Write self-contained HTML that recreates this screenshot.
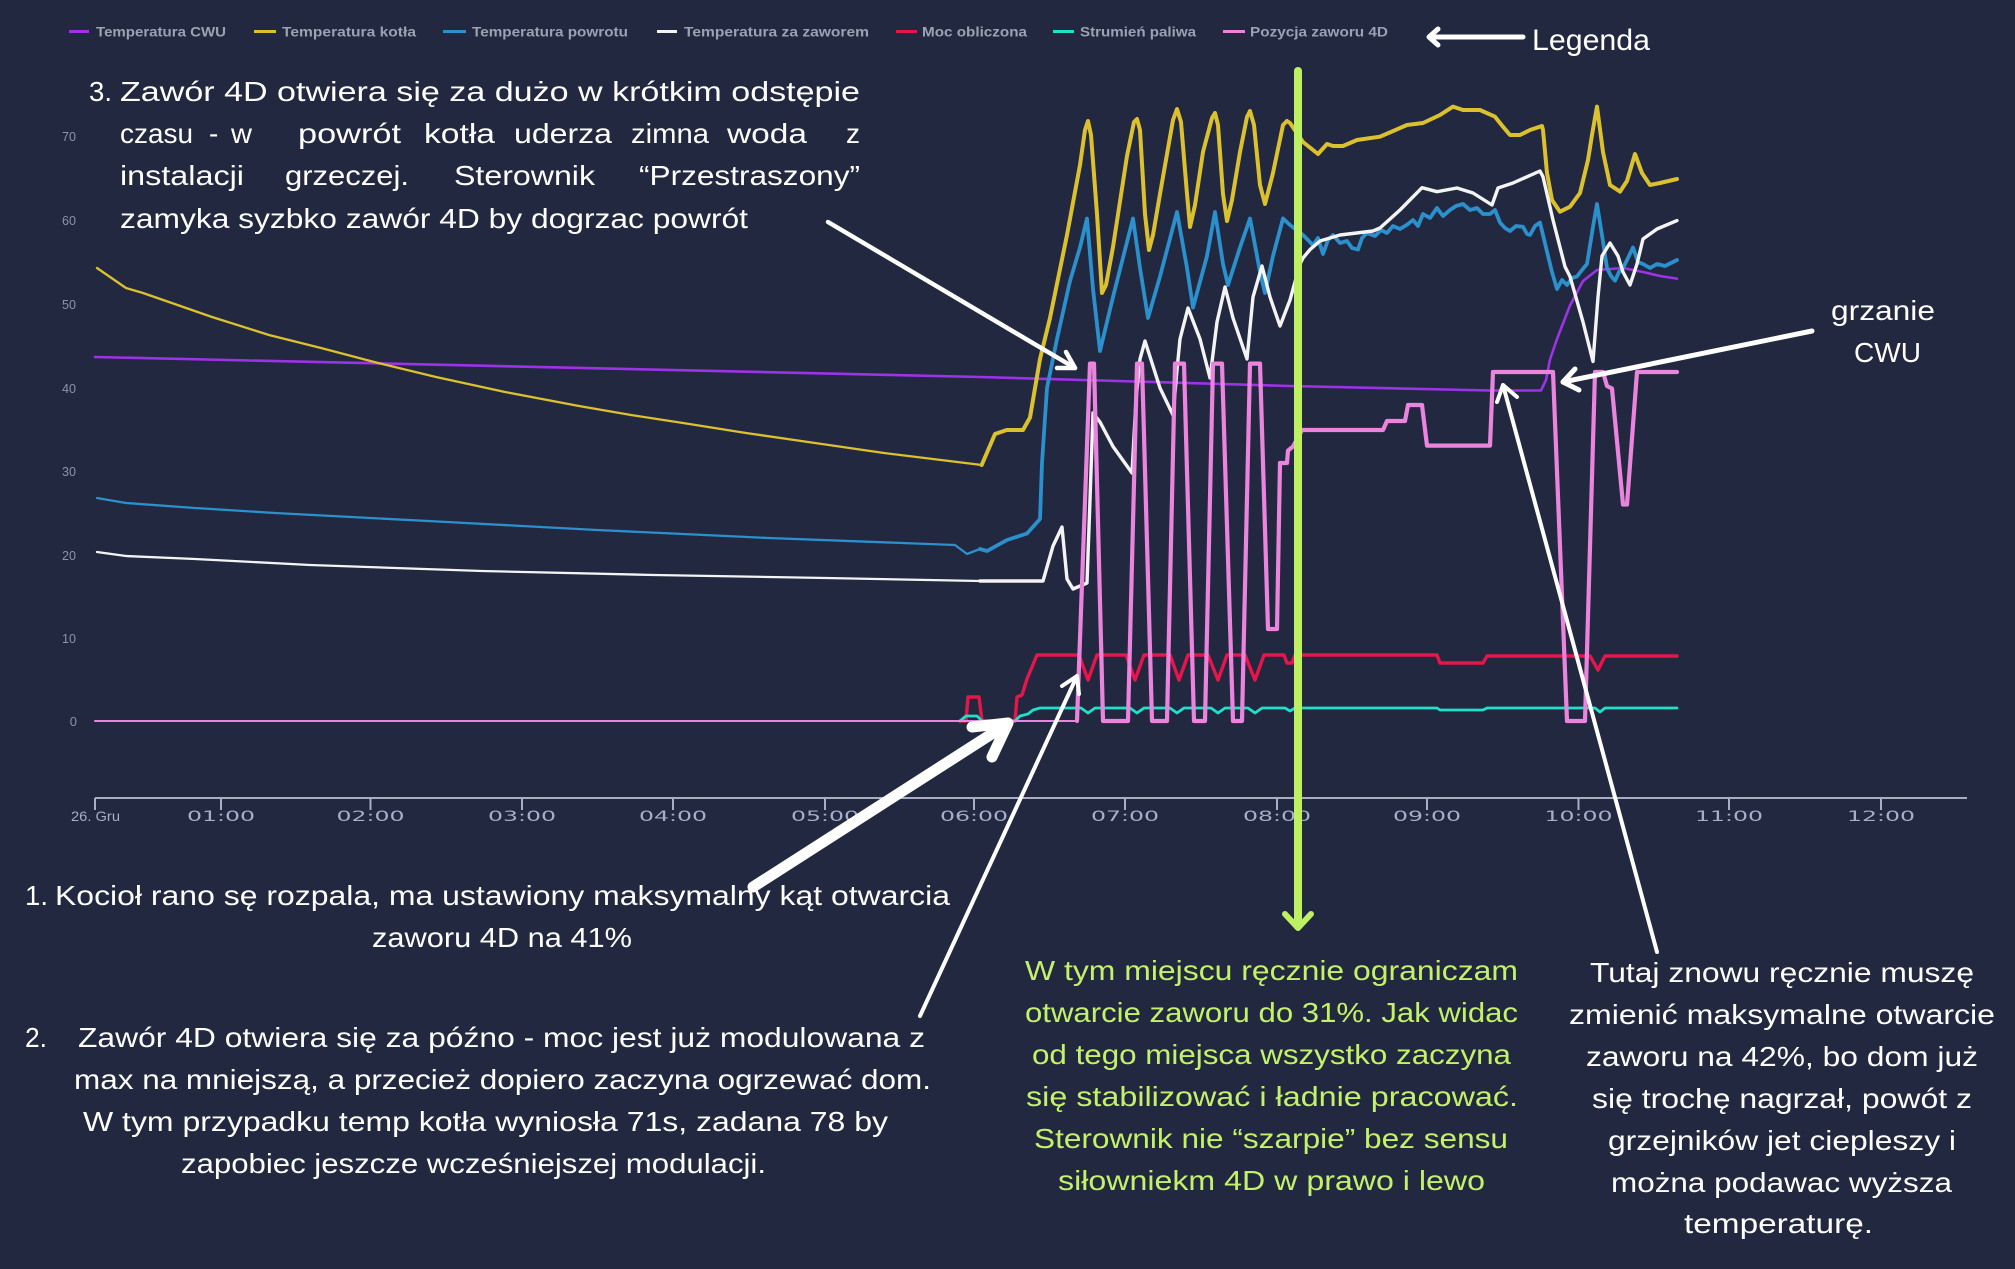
<!DOCTYPE html>
<html><head><meta charset="utf-8"><style>
html,body{margin:0;padding:0;background:#212840;}
svg{display:block;}
.ann{font-family:"Liberation Sans","DejaVu Sans",sans-serif;font-size:28px;fill:#ffffff;}
.grn{fill:#c3f26a;}
.leg{font-family:"Liberation Sans",sans-serif;font-weight:bold;font-size:14px;fill:#9ca2b2;}
.yl{font-family:"Liberation Sans",sans-serif;font-size:13px;fill:#8b93ab;}
.xl{font-family:"DejaVu Sans","Liberation Sans",sans-serif;font-size:14px;fill:#a6aec8;}
</style></head><body>
<svg width="2015" height="1269" viewBox="0 0 2015 1269" xmlns="http://www.w3.org/2000/svg">
<rect width="2015" height="1269" fill="#212840"/>

<!-- Legend -->
<g stroke-width="3">
<line x1="69" y1="31.5" x2="89" y2="31.5" stroke="#9d33e6"/>
<line x1="254" y1="31.5" x2="276" y2="31.5" stroke="#dcc12e"/>
<line x1="443" y1="31.5" x2="466" y2="31.5" stroke="#2b90cc"/>
<line x1="657" y1="31.5" x2="677" y2="31.5" stroke="#f4f4f4"/>
<line x1="896" y1="31.5" x2="917" y2="31.5" stroke="#e6164b"/>
<line x1="1053" y1="31.5" x2="1074" y2="31.5" stroke="#1fe0c8"/>
<line x1="1223" y1="31.5" x2="1245" y2="31.5" stroke="#ea84dc"/>
</g>
<text class="leg" x="96" y="36.5" textLength="130" lengthAdjust="spacingAndGlyphs">Temperatura CWU</text>
<text class="leg" x="282" y="36.5" textLength="134" lengthAdjust="spacingAndGlyphs">Temperatura kotła</text>
<text class="leg" x="472" y="36.5" textLength="156" lengthAdjust="spacingAndGlyphs">Temperatura powrotu</text>
<text class="leg" x="684" y="36.5" textLength="185" lengthAdjust="spacingAndGlyphs">Temperatura za zaworem</text>
<text class="leg" x="922" y="36.5" textLength="105" lengthAdjust="spacingAndGlyphs">Moc obliczona</text>
<text class="leg" x="1080" y="36.5" textLength="116" lengthAdjust="spacingAndGlyphs">Strumień paliwa</text>
<text class="leg" x="1250" y="36.5" textLength="138" lengthAdjust="spacingAndGlyphs">Pozycja zaworu 4D</text>

<!-- Legenda arrow -->
<g stroke="#ffffff" stroke-width="5" fill="none" stroke-linecap="round" stroke-linejoin="round">
<line x1="1430" y1="37" x2="1523" y2="37"/>
<polyline points="1438,29 1429,37 1438,45"/>
</g>
<text class="ann" x="1532" y="50" style="font-size:30px" textLength="118" lengthAdjust="spacingAndGlyphs">Legenda</text>

<!-- Y labels -->
<g class="yl" text-anchor="end">
<text x="76" y="141" textLength="14" lengthAdjust="spacingAndGlyphs">70</text>
<text x="76" y="225" textLength="14" lengthAdjust="spacingAndGlyphs">60</text>
<text x="76" y="309" textLength="14" lengthAdjust="spacingAndGlyphs">50</text>
<text x="76" y="393" textLength="14" lengthAdjust="spacingAndGlyphs">40</text>
<text x="76" y="476" textLength="14" lengthAdjust="spacingAndGlyphs">30</text>
<text x="76" y="560" textLength="14" lengthAdjust="spacingAndGlyphs">20</text>
<text x="76" y="643" textLength="14" lengthAdjust="spacingAndGlyphs">10</text>
<text x="77" y="726">0</text>
</g>

<!-- X axis -->
<line x1="95" y1="798" x2="1967" y2="798" stroke="#a9afc0" stroke-width="2"/>
<g stroke="#a9afc0" stroke-width="2">
<line x1="95" y1="798" x2="95" y2="810"/>
<line x1="221" y1="798" x2="221" y2="810"/>
<line x1="370.5" y1="798" x2="370.5" y2="810"/>
<line x1="522" y1="798" x2="522" y2="810"/>
<line x1="673" y1="798" x2="673" y2="810"/>
<line x1="825" y1="798" x2="825" y2="810"/>
<line x1="974" y1="798" x2="974" y2="810"/>
<line x1="1125" y1="798" x2="1125" y2="810"/>
<line x1="1277" y1="798" x2="1277" y2="810"/>
<line x1="1427" y1="798" x2="1427" y2="810"/>
<line x1="1578.5" y1="798" x2="1578.5" y2="810"/>
<line x1="1729" y1="798" x2="1729" y2="810"/>
<line x1="1881" y1="798" x2="1881" y2="810"/>
</g>
<text class="yl" x="71" y="821" style="font-size:14px;fill:#a6aec8" textLength="49" lengthAdjust="spacingAndGlyphs">26. Gru</text>
<g class="xl" text-anchor="middle">
<text x="221" y="821" textLength="68" lengthAdjust="spacingAndGlyphs">01:00</text>
<text x="370.5" y="821" textLength="68" lengthAdjust="spacingAndGlyphs">02:00</text>
<text x="522" y="821" textLength="68" lengthAdjust="spacingAndGlyphs">03:00</text>
<text x="673" y="821" textLength="68" lengthAdjust="spacingAndGlyphs">04:00</text>
<text x="825" y="821" textLength="68" lengthAdjust="spacingAndGlyphs">05:00</text>
<text x="974" y="821" textLength="68" lengthAdjust="spacingAndGlyphs">06:00</text>
<text x="1125" y="821" textLength="68" lengthAdjust="spacingAndGlyphs">07:00</text>
<text x="1277" y="821" textLength="68" lengthAdjust="spacingAndGlyphs">08:00</text>
<text x="1427" y="821" textLength="68" lengthAdjust="spacingAndGlyphs">09:00</text>
<text x="1578.5" y="821" textLength="68" lengthAdjust="spacingAndGlyphs">10:00</text>
<text x="1729" y="821" textLength="68" lengthAdjust="spacingAndGlyphs">11:00</text>
<text x="1881" y="821" textLength="68" lengthAdjust="spacingAndGlyphs">12:00</text>
</g>

<!-- Series -->
<g fill="none" stroke-linejoin="round" stroke-linecap="round">
<!-- CWU -->
<path stroke="#9d33e6" stroke-width="2.6" d="M95,357 L980,377 L1290,386 L1490,390.5 L1541,390.5 L1546,380 L1550,359.5 L1557,339 L1570,305.5 L1583,281 L1597,270 L1623,268 L1643,272 L1660,276 L1677,278.6"/>
<!-- kotla -->
<path stroke="#dcc12e" stroke-width="2.3" d="M97,268 L126,288 L143,293 L212,317 L269,335 L321,348 L378,363 L436,377 L505,392 L579,406 L631,415 L683,423 L746,433 L815,443 L884,453 L941,460 L981.7,465"/>
<path stroke="#dcc12e" stroke-width="4" d="M981.7,465 L995,434 L1006.7,430 L1023,430 L1030,417.5 L1040,359 L1050,318 L1067,235 L1080,165 L1085,130 L1088,121 L1091,135 L1097,214 L1102,293 L1106,285 L1113,247 L1127,156 L1134,122 L1137,119 L1140,130 L1145,214 L1149,250 L1153,235 L1160,194 L1173,120 L1177,109 L1181,122 L1187,194 L1190,227 L1195,205 L1203,152 L1212,118 L1215,113 L1218,125 L1223,194 L1227,221 L1232,200 L1240,152 L1247,117 L1250,111 L1254,125 L1260,185 L1265,204 L1273,173 L1283,125 L1287,121 L1290,123 L1303,142 L1318,154 L1327,144 L1333,146 L1343,146 L1357,140 L1380,136.7 L1407,125 L1423,123 L1440,115 L1453,106.6 L1463,110 L1480,110 L1495,116.7 L1503,126.7 L1510,135 L1520,135 L1530,130 L1542,126 L1543,130 L1547,173 L1552,200 L1560,211.7 L1570,206.7 L1580,193 L1588,160 L1592,135 L1597,106.6 L1603,152 L1610,185 L1620,191.6 L1627,181 L1635,154 L1642,173 L1650,185 L1660,183 L1677,179"/>
<!-- powrotu -->
<path stroke="#2b90cc" stroke-width="2.3" d="M97,498 L126,503 L195,508 L275,513 L447,522 L597,530 L769,538 L955,545 L967,554 L980,549"/>
<path stroke="#2b90cc" stroke-width="3.8" d="M980,549 L987,551 L1007,540 L1027,533.5 L1040,519 L1042,463 L1047,388 L1057,339 L1070,281 L1080,247.5 L1087,218.5 L1093,289 L1100,351 L1113,297 L1133,218.5 L1140,268 L1148,318 L1160,276.5 L1177,212 L1187,268 L1193,307.6 L1207,256 L1215,212 L1223,264 L1228,285 L1240,247.5 L1250,218.5 L1260,272 L1265,293 L1273,256 L1283,218.5 L1290,225 L1303,235 L1308,240 L1313,245.4 L1318,238 L1323,254 L1328,240 L1333,235 L1340,243 L1347,241 L1352,248 L1358,249.6 L1362,238 L1367,233 L1375,236 L1381,230 L1387,233 L1393,226 L1400,229 L1407,224.7 L1413,220 L1418,226 L1423,214 L1430,218 L1437,208 L1443,216 L1450,210 L1456,206 L1463,204 L1470,210 L1477,208 L1483,214 L1490,214 L1495,210 L1500,222.6 L1505,228 L1510,231 L1516,226 L1523,226.8 L1527,234 L1530,235 L1535,226 L1540,222.6 L1547,251.7 L1552,272 L1557,289 L1562,280 L1567,285 L1572,278 L1577,276.5 L1582,270 L1587,264 L1593,226.8 L1597,204 L1602,235 L1607,268 L1611,276 L1615,280.7 L1619,272 L1623,268 L1628,258 L1633,247.5 L1638,262 L1643,264 L1650,268 L1657,264 L1665,266 L1677,260"/>
<!-- za zaworem -->
<path stroke="#f4f4f4" stroke-width="2.3" d="M97,552 L126,556 L195,559 L310,565 L482,571 L654,575 L826,578 L980,581"/>
<path stroke="#f4f4f4" stroke-width="3.4" d="M980,581 L1043,581 L1053,546 L1062,527 L1067,579 L1073,589 L1087,583 L1090,500 L1093,413 L1100,422 L1113,446.5 L1132,473 L1136,400 L1140,359 L1145,341 L1160,388 L1173,415 L1177,370 L1180,339 L1188,308 L1200,339 L1210,378 L1217,322 L1225,287 L1233,318 L1247,359 L1253,297 L1262,266 L1270,297 L1280,326 L1290,300 L1300,264 L1303,258 L1310,249.6 L1320,241 L1340,235 L1373,231 L1380,228 L1400,210 L1422,187.7 L1437,191.7 L1457,188 L1473,193 L1492,205 L1498,188 L1513,183 L1540,171 L1543,176.7 L1553,220 L1565,266.7 L1570,276.5 L1583,322 L1593,361.5 L1598,297 L1602,256 L1610,243 L1618,256 L1623,272 L1630,285 L1637,264 L1643,239 L1657,229 L1677,220.6"/>
<!-- moc -->
<path stroke="#e6164b" stroke-width="3.4" d="M960,721 L966,721 L968,697 L979,697 L982,721 L1015,721 L1017,697 L1022,695 L1027,679 L1037,655 L1079,655 L1088,680 L1097,655 L1126,655 L1135,680 L1144,655 L1170,655 L1179,680 L1188,655 L1208,655 L1218,680 L1227,655 L1245,655 L1255,680 L1264,655 L1284,655 L1287,663 L1292,663 L1295,655 L1437,655 L1440,663 L1483,663 L1487,656 L1590,656 L1598,670 L1605,656 L1677,656"/>
<!-- strumien -->
<path stroke="#1fe0c8" stroke-width="2.8" d="M960,721 L966,716 L977,716 L982,721 L1015,721 L1020,716 L1028,714 L1033,710 L1040,708 L1081,708 L1088,713 L1095,708 L1130,708 L1137,713 L1144,708 L1170,708 L1177,713 L1184,708 L1211,708 L1218,713 L1225,708 L1248,708 L1255,713 L1262,708 L1285,708 L1290,711 L1295,708 L1437,708 L1440,710 L1483,710 L1487,708 L1595,708 L1600,712 L1605,708 L1677,708"/>
<!-- pozycja -->
<path stroke="#ea84dc" stroke-width="2" d="M95,721 L1077,721"/>
<path stroke="#ea84dc" stroke-width="4.2" d="M1077,721 L1090,363.6 L1094,363.6 L1103,721 L1128,721 L1137,363.6 L1142,363.6 L1152,721 L1167,721 L1175,363.6 L1184,363.6 L1194,721 L1205,721 L1213,363.6 L1222,363.6 L1233,721 L1242,721 L1250,363.6 L1260,363.6 L1268,629 L1277,629 L1280,463 L1287,463 L1288,450.6 L1293,446.5 L1302,430 L1383,430 L1387,421 L1405,421 L1408,405 L1422,405 L1427,445.6 L1490,445.6 L1493,372 L1553,372 L1567,721 L1585,721 L1595,372 L1603,372 L1607,386 L1612,388.5 L1623,504.5 L1627,504.5 L1637,372 L1677,372"/>
</g>

<!-- Annotation arrows -->
<g stroke="#ffffff" fill="none" stroke-linecap="round" stroke-linejoin="round">
<line x1="753" y1="887" x2="1004" y2="726" stroke-width="11"/>
<polyline points="972,727 1008,723 992,757" stroke-width="11"/>
<line x1="920" y1="1016" x2="1077" y2="676" stroke-width="4"/>
<polyline points="1062,686 1077,676 1079,694" stroke-width="4"/>
<line x1="828" y1="222" x2="1075" y2="368" stroke-width="4.5"/>
<polyline points="1057,368 1075,368 1066,352" stroke-width="4.5"/>
<line x1="1812" y1="331" x2="1563" y2="382" stroke-width="5"/>
<polyline points="1579,390 1563,382 1575,369" stroke-width="5"/>
<line x1="1657" y1="952" x2="1503" y2="385" stroke-width="4"/>
<polyline points="1497,402 1503,385 1517,397" stroke-width="4"/>
</g>

<!-- Green vertical marker -->
<g stroke="#bdf163" fill="none" stroke-linecap="round" stroke-linejoin="round">
<line x1="1298" y1="71" x2="1298" y2="926" stroke-width="8"/>
<polyline points="1285,914 1298,928 1311,914" stroke-width="6"/>
</g>

<!-- Top-left annotation -->
<text class="ann" x="89" y="101" textLength="23" lengthAdjust="spacingAndGlyphs">3.</text>
<text class="ann" x="120" y="101" textLength="740" lengthAdjust="spacingAndGlyphs">Zawór 4D otwiera się za dużo  w krótkim odstępie</text>
<g class="ann">
<text x="120" y="143" textLength="73" lengthAdjust="spacingAndGlyphs">czasu</text>
<text x="209" y="143">-</text>
<text x="231" y="143" textLength="21" lengthAdjust="spacingAndGlyphs">w</text>
<text x="298" y="143" textLength="103" lengthAdjust="spacingAndGlyphs">powrót</text>
<text x="424" y="143" textLength="71" lengthAdjust="spacingAndGlyphs">kotła</text>
<text x="514" y="143" textLength="98" lengthAdjust="spacingAndGlyphs">uderza</text>
<text x="631" y="143" textLength="78" lengthAdjust="spacingAndGlyphs">zimna</text>
<text x="727" y="143" textLength="80" lengthAdjust="spacingAndGlyphs">woda</text>
<text x="846" y="143" textLength="14" lengthAdjust="spacingAndGlyphs">z</text>
<text x="120" y="185" textLength="124" lengthAdjust="spacingAndGlyphs">instalacji</text>
<text x="285" y="185" textLength="124" lengthAdjust="spacingAndGlyphs">grzeczej.</text>
<text x="454" y="185" textLength="141" lengthAdjust="spacingAndGlyphs">Sterownik</text>
<text x="639" y="185" textLength="221" lengthAdjust="spacingAndGlyphs">“Przestraszony”</text>
</g>
<text class="ann" x="120" y="228" textLength="628" lengthAdjust="spacingAndGlyphs">zamyka syzbko zawór 4D by dogrzac powrót</text>

<!-- grzanie CWU -->
<text class="ann" x="1831" y="320" textLength="104" lengthAdjust="spacingAndGlyphs">grzanie</text>
<text class="ann" x="1854" y="362" textLength="67" lengthAdjust="spacingAndGlyphs">CWU</text>

<!-- Bottom-left annotations -->
<text class="ann" x="25" y="905" textLength="23" lengthAdjust="spacingAndGlyphs">1.</text>
<text class="ann" x="55" y="905" textLength="895" lengthAdjust="spacingAndGlyphs">Kocioł rano sę rozpala, ma ustawiony maksymalny kąt otwarcia</text>
<text class="ann" x="372" y="947" textLength="260" lengthAdjust="spacingAndGlyphs">zaworu 4D na 41%</text>
<text class="ann" x="25" y="1047" textLength="22" lengthAdjust="spacingAndGlyphs">2.</text>
<text class="ann" x="78" y="1047" textLength="847" lengthAdjust="spacingAndGlyphs">Zawór 4D otwiera się za późno - moc jest już modulowana z</text>
<text class="ann" x="74" y="1089" textLength="857" lengthAdjust="spacingAndGlyphs">max na mniejszą, a przecież dopiero zaczyna ogrzewać dom.</text>
<text class="ann" x="83" y="1131" textLength="805" lengthAdjust="spacingAndGlyphs">W tym przypadku temp kotła wyniosła 71s, zadana 78 by</text>
<text class="ann" x="181" y="1173" textLength="585" lengthAdjust="spacingAndGlyphs">zapobiec jeszcze wcześniejszej modulacji.</text>

<!-- Green center annotation -->
<g class="ann grn">
<text x="1025" y="980" textLength="493" lengthAdjust="spacingAndGlyphs">W tym miejscu ręcznie ograniczam</text>
<text x="1025" y="1022" textLength="493" lengthAdjust="spacingAndGlyphs">otwarcie zaworu do 31%. Jak widac</text>
<text x="1032" y="1064" textLength="479" lengthAdjust="spacingAndGlyphs">od tego miejsca wszystko zaczyna</text>
<text x="1026" y="1106" textLength="492" lengthAdjust="spacingAndGlyphs">się  stabilizować i ładnie pracować.</text>
<text x="1034" y="1148" textLength="474" lengthAdjust="spacingAndGlyphs">Sterownik nie “szarpie” bez sensu</text>
<text x="1058" y="1190" textLength="427" lengthAdjust="spacingAndGlyphs">siłowniekm 4D w prawo i lewo</text>
</g>

<!-- Right annotation -->
<g class="ann">
<text x="1590" y="982" textLength="384" lengthAdjust="spacingAndGlyphs">Tutaj znowu ręcznie muszę</text>
<text x="1569" y="1024" textLength="426" lengthAdjust="spacingAndGlyphs">zmienić maksymalne otwarcie</text>
<text x="1586" y="1066" textLength="392" lengthAdjust="spacingAndGlyphs">zaworu na 42%, bo dom już</text>
<text x="1592" y="1108" textLength="380" lengthAdjust="spacingAndGlyphs">się trochę nagrzał, powót z</text>
<text x="1608" y="1150" textLength="348" lengthAdjust="spacingAndGlyphs">grzejników jet ciepleszy i</text>
<text x="1611" y="1192" textLength="341" lengthAdjust="spacingAndGlyphs">można podawac wyższa</text>
<text x="1684" y="1233" textLength="189" lengthAdjust="spacingAndGlyphs">temperaturę.</text>
</g>
</svg>
</body></html>
